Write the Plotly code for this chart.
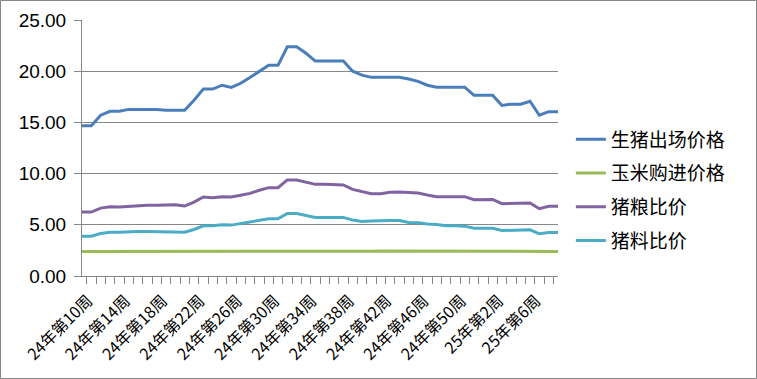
import plotly.graph_objects as go

weeks_2024 = [f"24年第{w}周" for w in range(10, 53)]
weeks_2025 = [f"25年第{w}周" for w in range(1, 10)]
categories = weeks_2024 + weeks_2025

hog_price = [14.68, 14.68, 15.70, 16.08, 16.08, 16.27, 16.27, 16.27, 16.27, 16.18,
             16.18, 16.18, 17.17, 18.25, 18.25, 18.63, 18.41, 18.82, 19.39, 20.00,
             20.57, 20.57, 22.39, 22.39, 21.75, 20.99, 20.99, 20.99, 20.99, 20.00,
             19.62, 19.40, 19.40, 19.40, 19.40, 19.24, 19.01, 18.63, 18.44, 18.44,
             18.44, 18.44, 17.64, 17.64, 17.64, 16.66, 16.78, 16.78, 17.07, 15.70,
             16.05, 16.05]

corn_price = [2.40, 2.40, 2.40, 2.41, 2.41, 2.42, 2.42, 2.40, 2.40, 2.38,
              2.37, 2.37, 2.39, 2.40, 2.40, 2.41, 2.41, 2.42, 2.42, 2.43,
              2.43, 2.42, 2.42, 2.42, 2.42, 2.40, 2.40, 2.40, 2.40, 2.40,
              2.40, 2.41, 2.45, 2.45, 2.42, 2.41, 2.40, 2.40, 2.40, 2.41,
              2.41, 2.41, 2.41, 2.41, 2.41, 2.41, 2.41, 2.41, 2.41, 2.41,
              2.40, 2.40]

hog_grain_ratio = [6.24, 6.24, 6.63, 6.76, 6.73, 6.80, 6.83, 6.90, 6.90, 6.93,
                   6.96, 6.83, 7.22, 7.71, 7.65, 7.75, 7.71, 7.88, 8.07, 8.37,
                   8.63, 8.63, 9.38, 9.38, 9.18, 8.95, 8.95, 8.95, 8.89, 8.46,
                   8.27, 8.04, 8.04, 8.17, 8.20, 8.17, 8.10, 7.91, 7.75, 7.75,
                   7.75, 7.75, 7.45, 7.45, 7.48, 7.06, 7.09, 7.12, 7.12, 6.57,
                   6.80, 6.80]

hog_feed_ratio = [3.89, 3.89, 4.15, 4.28, 4.28, 4.35, 4.35, 4.35, 4.35, 4.31,
                  4.28, 4.28, 4.54, 4.90, 4.90, 5.00, 4.97, 5.13, 5.33, 5.49,
                  5.59, 5.59, 6.11, 6.11, 5.95, 5.72, 5.72, 5.72, 5.72, 5.46,
                  5.33, 5.36, 5.42, 5.42, 5.42, 5.23, 5.20, 5.07, 5.03, 4.90,
                  4.90, 4.87, 4.67, 4.67, 4.67, 4.44, 4.48, 4.51, 4.51, 4.12,
                  4.25, 4.25]

series_names = ["生猪出场价格", "玉米购进价格", "猪粮比价", "猪料比价"]
series_values = [hog_price, corn_price, hog_grain_ratio, hog_feed_ratio]
series_colors = ["#4A7EBB", "#9BBB59", "#8064A2", "#4BACC6"]

y_ticks = [0, 5, 10, 15, 20, 25]

fig = go.Figure()
for name, vals, col in zip(series_names, series_values, series_colors):
    fig.add_trace(go.Scatter(x=categories, y=vals, name=name, mode="lines",
                             legendgroup=name,
                             line=dict(color=col, width=3)))

tick_text = [c if i % 4 == 0 else "" for i, c in enumerate(categories)]

W, H = 757, 379
ml, mr, mt, mb = 82, 199, 20, 103
pw, ph = W - ml - mr, H - mt - mb

fig.update_layout(
    width=W, height=H,
    margin=dict(l=ml, r=mr, t=mt, b=mb, autoexpand=False),
    paper_bgcolor="white", plot_bgcolor="white",
    font=dict(family="Liberation Sans, Noto Sans CJK SC", color="black"),
    showlegend=True,
    legend=dict(x=1.027, y=0.336, xanchor="left", yanchor="middle",
                font=dict(size=19, family="Noto Sans CJK SC"),
                tracegroupgap=6, bgcolor="rgba(0,0,0,0)"),
    xaxis=dict(type="category", tickmode="array", tickvals=categories,
               ticktext=tick_text, tickangle=-45, tickson="boundaries",
               ticks="outside", ticklen=7, tickcolor="#868686",
               showline=True, linecolor="#868686", linewidth=1,
               showgrid=False, zeroline=False, automargin=False,
               ticklabelstandoff=8, ticklabelshift=6,
               tickfont=dict(size=16, family="Noto Sans CJK SC")),
    yaxis=dict(range=[0, 25], tickmode="array", tickvals=y_ticks,
               tickformat=".2f", ticks="outside", ticklen=7,
               tickcolor="#868686", showline=True, linecolor="#868686",
               linewidth=1, showgrid=True, gridcolor="#868686", gridwidth=1,
               zeroline=False, automargin=False, ticklabelstandoff=4,
               tickfont=dict(size=19)),
    shapes=[dict(type="rect", xref="paper", yref="paper",
                 x0=(0.5 - ml) / pw, x1=(W - 0.5 - ml) / pw,
                 y0=(mt + ph - (H - 0.5)) / ph, y1=(mt + ph - 0.5) / ph,
                 line=dict(color="#868686", width=1), layer="below")],
)

fig.write_html("out.html", config={"displayModeBar": False},
               post_script="document.body.style.margin='0';"
                           "document.body.style.overflow='hidden';")
